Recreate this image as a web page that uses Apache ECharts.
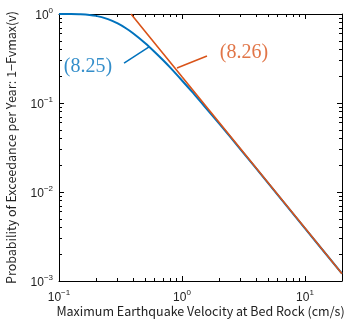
<!DOCTYPE html>
<html><head><meta charset="utf-8">
<script src="https://cdn.jsdelivr.net/npm/echarts@6/dist/echarts.min.js"></script>
<style>html,body{margin:0;padding:0;background:#fff}#c{width:349px;height:320px}</style>
</head><body><div id="c"></div>
<script>
// Curve (8.25): exceedance probability
const velocity825 = [0.1,0.12,0.15,0.2,0.25,0.3,0.35,0.4,0.5,0.6,0.7,0.8,1,1.2,1.5,2,3,5,10,20];
const prob825 = [1.0,0.9993,0.993,0.953,0.876,0.783,0.692,0.608,0.473,0.375,0.304,0.251,0.179,0.135,0.094,0.059,0.030,0.0127,0.0039,0.00121];
// Line (8.26): power-law asymptote
const velocity826 = [0.385,0.5,1,2,5,10,20];
const prob826 = [1.0,0.641,0.197,0.0608,0.0128,0.00394,0.00121];
// Ticks
const xMajorTicks = [0.1,1,10];
const xMinorTicks = [0.2,0.3,0.4,0.5,0.6,0.7,0.8,0.9,2,3,4,5,6,7,8,9,20];
const yMajorTicks = [0.001,0.01,0.1,1];
const yMinorTicks = [0.002,0.003,0.004,0.005,0.006,0.007,0.008,0.009,0.02,0.03,0.04,0.05,0.06,0.07,0.08,0.09,0.2,0.3,0.4,0.5,0.6,0.7,0.8,0.9];
const xTitle = 'Maximum Earthquake Velocity at Bed Rock (cm/s)';
const yTitle = 'Probability of Exceedance per Year: 1\u2212Fvmax(v)';
const label825 = '(8.25)';
const label826 = '(8.26)';

const BLUE = '#0072BD', ORANGE = '#D95319';
const chart = echarts.init(document.getElementById('c'), null, {renderer: 'canvas'});

function powLabel(v) {
  const e = Math.round(Math.log10(v));
  return '{b|10}{s|' + (e < 0 ? '\u2212' + (-e) : e) + '}';
}
const rich = {
  b: {fontSize: 12, fontFamily: 'Liberation Sans', color: '#222', verticalAlign: 'bottom'},
  s: {fontSize: 8, fontFamily: 'Liberation Sans', color: '#222', verticalAlign: 'bottom', padding: [0, 0, 7, 0]}
};

function xAxisDef(pos, ticks, len, showLabel, showLine, extra) {
  return Object.assign({
    type: 'log', logBase: 10, min: 0.1, max: 20, position: pos,
    axisLine: {show: showLine, onZero: false, lineStyle: {color: '#000', width: 1}},
    axisTick: {show: true, inside: true, length: len, customValues: ticks, lineStyle: {color: '#000', width: 1}},
    axisLabel: showLabel ? {show: true, customValues: xMajorTicks, formatter: powLabel, rich: rich, margin: 8} : {show: false},
    splitLine: {show: false}
  }, extra || {});
}
function yAxisDef(pos, ticks, len, showLabel, showLine, extra) {
  return Object.assign({
    type: 'log', logBase: 10, min: 0.001, max: 1, position: pos,
    axisLine: {show: showLine, onZero: false, lineStyle: {color: '#000', width: 1}},
    axisTick: {show: true, inside: true, length: len, customValues: ticks, lineStyle: {color: '#000', width: 1}},
    axisLabel: showLabel ? {show: true, customValues: yMajorTicks, formatter: powLabel, rich: rich, margin: 6} : {show: false},
    splitLine: {show: false}
  }, extra || {});
}

const option = {
  animation: false,
  backgroundColor: '#fff',
  grid: {left: 59, right: 7, top: 14, bottom: 39, containLabel: false, outerBoundsMode: 'none'},
  xAxis: [
    xAxisDef('bottom', xMajorTicks, 5, true, true, {
      name: xTitle, nameLocation: 'middle', nameGap: 24, nameMoveOverlap: false,
      nameTextStyle: {fontSize: 12.5, fontFamily: 'Noto Sans CJK JP', color: '#222'}
    }),
    xAxisDef('bottom', xMinorTicks, 3, false, false),
    xAxisDef('top', xMajorTicks, 5, false, true),
    xAxisDef('top', xMinorTicks, 3, false, false)
  ],
  yAxis: [
    yAxisDef('left', yMajorTicks, 5, true, true, {
      name: yTitle, nameLocation: 'middle', nameGap: 41, nameRotate: 90, nameMoveOverlap: false,
      nameTextStyle: {fontSize: 12.5, fontFamily: 'Noto Sans CJK JP', color: '#222'}
    }),
    yAxisDef('left', yMinorTicks, 3, false, false),
    yAxisDef('right', yMajorTicks, 5, false, true),
    yAxisDef('right', yMinorTicks, 3, false, false)
  ],
  series: [
    {
      type: 'line', xAxisIndex: 0, yAxisIndex: 0, showSymbol: false, symbol: 'none', smooth: 0.3,
      data: velocity825.map((v, i) => [v, prob825[i]]),
      lineStyle: {color: BLUE, width: 2}, z: 3
    },
    {
      type: 'line', xAxisIndex: 0, yAxisIndex: 0, showSymbol: false, symbol: 'none',
      data: velocity826.map((v, i) => [v, prob826[i]]),
      lineStyle: {color: ORANGE, width: 1.6}, z: 4
    },
    // leader lines
    {
      type: 'line', showSymbol: false, symbol: 'none',
      data: [[0.338, 0.281], [0.54, 0.426]],
      lineStyle: {color: BLUE, width: 1.5}
    },
    {
      type: 'line', showSymbol: false, symbol: 'none',
      data: [[0.911, 0.247], [1.596, 0.337]],
      lineStyle: {color: ORANGE, width: 1.5}
    },
    // annotation texts
    {
      type: 'scatter', symbolSize: 0, silent: true,
      data: [{value: [0.172, 0.254], label: {color: BLUE}, name: label825},
             {value: [3.19, 0.365], label: {color: ORANGE}, name: label826}],
      label: {show: true, position: 'inside', formatter: p => p.name,
              fontFamily: 'Liberation Serif', fontSize: 20}
    }
  ]
};
chart.setOption(option);
</script>
</body></html>
